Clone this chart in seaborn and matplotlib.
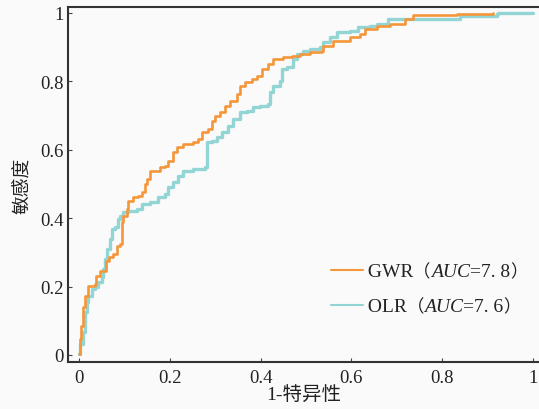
import numpy as np
import pandas as pd
import matplotlib
matplotlib.use("Agg")
import matplotlib.pyplot as plt
import seaborn as sns
from matplotlib.lines import Line2D
from matplotlib.offsetbox import AnchoredOffsetbox, HPacker, TextArea, DrawingArea

# =========================
# ROC DATA
# =========================

gwr_fpr = [0.0, 0.002, 0.004, 0.008, 0.013, 0.020, 0.035, 0.037, 0.046, 0.057,
           0.059, 0.066, 0.075, 0.084, 0.090, 0.095, 0.097, 0.106, 0.108, 0.119,
           0.130, 0.139, 0.145, 0.150, 0.156, 0.178, 0.189, 0.196, 0.207, 0.216,
           0.229, 0.251, 0.262, 0.271, 0.284, 0.293, 0.300, 0.311, 0.322, 0.333,
           0.348, 0.355, 0.366, 0.381, 0.392, 0.403, 0.416, 0.427, 0.449, 0.469,
           0.487, 0.509, 0.535, 0.537, 0.559, 0.597, 0.619, 0.630, 0.656, 0.685,
           0.718, 0.736, 0.833, 0.912]
gwr_tpr = [0.003, 0.047, 0.085, 0.140, 0.173, 0.202, 0.208, 0.231, 0.246, 0.246,
           0.275, 0.287, 0.295, 0.319, 0.325, 0.389, 0.406, 0.427, 0.450, 0.462,
           0.465, 0.477, 0.500, 0.515, 0.538, 0.550, 0.553, 0.567, 0.594, 0.608,
           0.617, 0.623, 0.632, 0.652, 0.661, 0.684, 0.699, 0.711, 0.728, 0.743,
           0.763, 0.787, 0.798, 0.807, 0.816, 0.836, 0.851, 0.865, 0.871, 0.874,
           0.880, 0.886, 0.889, 0.904, 0.918, 0.930, 0.939, 0.953, 0.962, 0.968,
           0.982, 0.994, 0.997, 1.0]

olr_fpr = [0.0, 0.002, 0.009, 0.013, 0.018, 0.020, 0.029, 0.035, 0.042, 0.051,
           0.053, 0.057, 0.062, 0.068, 0.073, 0.079, 0.086, 0.090, 0.097, 0.108,
           0.128, 0.139, 0.156, 0.174, 0.189, 0.196, 0.207, 0.218, 0.229, 0.251,
           0.278, 0.282, 0.293, 0.304, 0.315, 0.328, 0.339, 0.355, 0.370, 0.383,
           0.399, 0.416, 0.421, 0.427, 0.443, 0.447, 0.458, 0.471, 0.480, 0.493,
           0.509, 0.531, 0.537, 0.553, 0.568, 0.597, 0.615, 0.641, 0.656, 0.681,
           0.833, 0.839, 0.921, 0.923, 1.0]
olr_tpr = [0.003, 0.032, 0.067, 0.126, 0.155, 0.173, 0.193, 0.199, 0.213, 0.228,
           0.251, 0.281, 0.310, 0.339, 0.368, 0.374, 0.398, 0.406, 0.418, 0.421,
           0.427, 0.442, 0.447, 0.462, 0.471, 0.491, 0.506, 0.523, 0.538, 0.544,
           0.550, 0.623, 0.626, 0.637, 0.652, 0.670, 0.690, 0.711, 0.713, 0.725,
           0.728, 0.734, 0.769, 0.787, 0.801, 0.836, 0.842, 0.865, 0.880, 0.889,
           0.895, 0.901, 0.915, 0.930, 0.944, 0.947, 0.959, 0.962, 0.968, 0.982,
           0.982, 0.991, 0.997, 1.0, 1.0]

models = ["GWR", "OLR"]
auc_texts = ["7. 8", "7. 6"]

tick_values = [0, 0.2, 0.4, 0.6, 0.8, 1]
tick_labels = ["0", "0.2", "0.4", "0.6", "0.8", "1"]

# =========================
# STYLE
# =========================

sns.set_style("ticks")
plt.rcParams['font.family'] = ['Liberation Serif', 'Noto Sans CJK SC']

bg = "#fafafa"
ink = "#222222"
gwr_color = "#f5963a"
olr_color = "#93d5d4"

fig = plt.figure(figsize=(5.39, 4.10), dpi=100, facecolor=bg)
ax = fig.add_axes([68 / 539, 47 / 410, 471 / 539, 355 / 410])
ax.set_facecolor(bg)

# =========================
# ROC CURVES
# =========================

olr_df = pd.DataFrame({"fpr": olr_fpr, "tpr": olr_tpr})
gwr_df = pd.DataFrame({"fpr": gwr_fpr, "tpr": gwr_tpr})

sns.lineplot(data=gwr_df, x="fpr", y="tpr", ax=ax, color=gwr_color,
             linewidth=1.9, drawstyle="steps-post", sort=False, zorder=3)
sns.lineplot(data=olr_df, x="fpr", y="tpr", ax=ax, color=olr_color,
             linewidth=2.4, drawstyle="steps-post", sort=False, zorder=2)

ax.set_xlim(-11 / 454, 460 / 454)
ax.set_ylim(-7 / 342, 1 + 6 / 342)

ax.set_xticks(tick_values)
ax.set_xticklabels(tick_labels)
ax.set_yticks(tick_values)
ax.set_yticklabels(tick_labels)
ax.tick_params(direction="in", length=3, width=0.8, colors="#444444",
               labelcolor=ink, labelsize=13.5)
ax.tick_params(axis="x", pad=5)
ax.tick_params(axis="y", pad=3)

for side in ["left", "bottom", "top"]:
    ax.spines[side].set_color("#333333")
    ax.spines[side].set_linewidth(1.5)
ax.spines["right"].set_visible(False)

ax.set_xlabel("1-特异性", fontsize=14, color=ink, labelpad=0)
ax.set_ylabel("敏感度", fontsize=13.5, color=ink,
              family=['Noto Sans CJK SC'], labelpad=5)

# =========================
# LEGEND (mixed fonts: italic AUC, full-width brackets)
# =========================

serif = dict(family="Liberation Serif", size=14, color=ink)
serif_it = dict(family="Liberation Serif", style="italic", size=14, color=ink)
cjk = dict(family="Noto Sans CJK SC", size=12.5, color=ink)

row_y = [272, 307]
for model, auc, color, y in zip(models, auc_texts, [gwr_color, olr_color], row_y):
    da = DrawingArea(23, 9, 0, 0)
    da.add_artist(Line2D([0, 23], [4.5, 4.5], color=color, linewidth=1.5))
    row = HPacker(children=[
        da,
        TextArea(" " + model, textprops=serif),
        TextArea("（", textprops=cjk),
        TextArea("AUC", textprops=serif_it),
        TextArea("=" + auc, textprops=serif),
        TextArea("）", textprops=cjk),
    ], align="baseline", pad=0, sep=0)
    box = AnchoredOffsetbox(loc="center left", child=row, pad=0, borderpad=0,
                            frameon=False,
                            bbox_to_anchor=(331 / 539, (410 - y) / 410),
                            bbox_transform=fig.transFigure)
    ax.add_artist(box)

plt.savefig("out.png", dpi=100, facecolor=bg)
plt.close()
